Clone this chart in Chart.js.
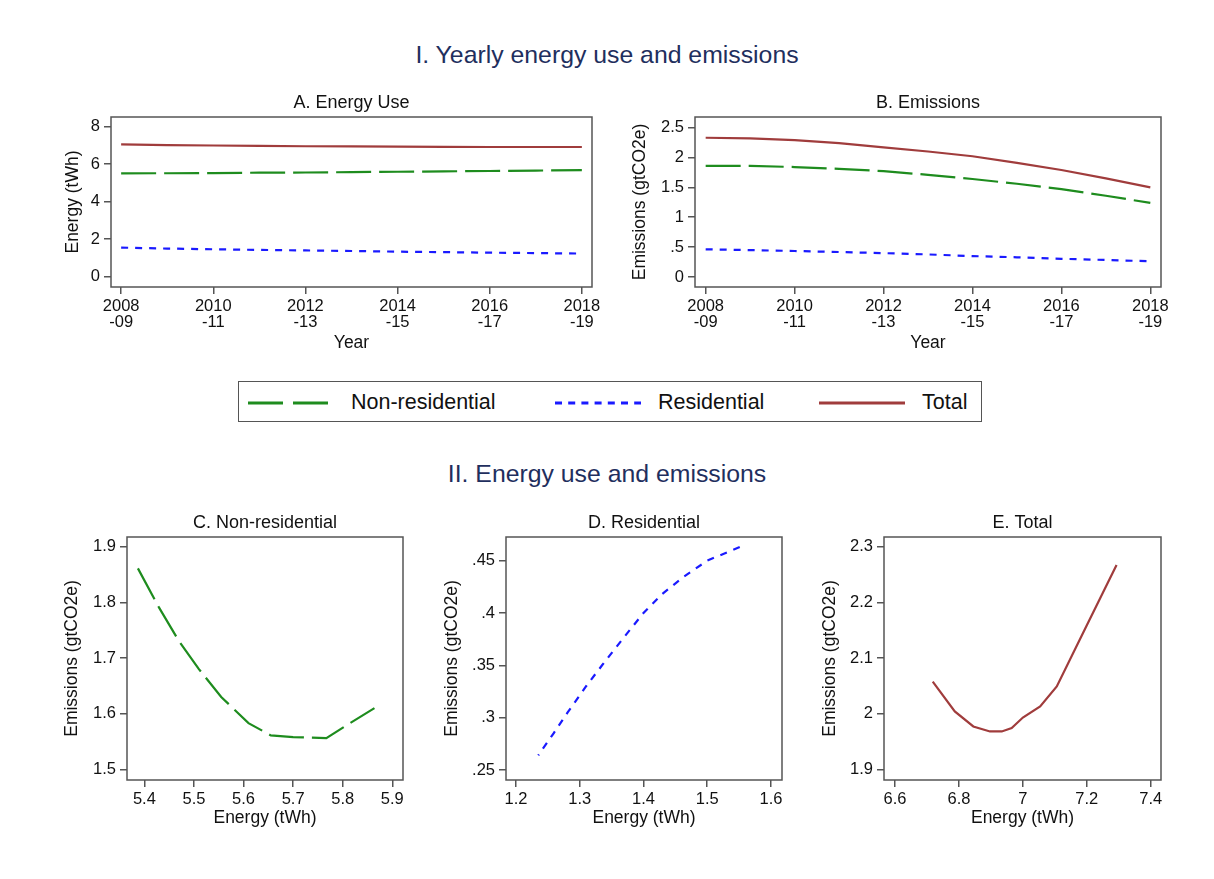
<!DOCTYPE html>
<html>
<head>
<meta charset="utf-8">
<script src="https://cdn.jsdelivr.net/npm/chart.js@4.4.0/dist/chart.umd.min.js"></script>
<style>
  body { margin: 0; background: #fff; font-family: 'Liberation Sans', Arial, Helvetica, sans-serif; }
  #page { position: relative; width: 1214px; height: 879px; overflow: hidden; }
  .panel { position: absolute; }
  .section-title { position: absolute; left: 0; width: 1214px; text-align: center; color: #1f2f5e; font-size: 24.8px; line-height: 30px; }
  #legend { position: absolute; left: 238px; top: 381px; width: 744px; height: 41px; box-sizing: border-box; border: 1.5px solid #555; }
  #legend svg { position: absolute; top: 0; }
  #legend span { position: absolute; top: 0; line-height: 40px; font-size: 21.5px; color: #111; }
</style>
</head>
<body>
<div id="page">
  <div class="section-title" style="top:40px">I. Yearly energy use and emissions</div>
  <div class="panel" style="left:55px;top:88px;width:562px;height:270px"><canvas id="chartA"></canvas></div>
  <div class="panel" style="left:620px;top:88px;width:566px;height:270px"><canvas id="chartB"></canvas></div>

  <div id="legend">
    <svg style="left:8px" width="82" height="40"><line x1="1" y1="21" x2="81" y2="21" stroke="#1e8c1e" stroke-width="3" stroke-dasharray="35 10"/></svg>
    <span style="left:112px">Non-residential</span>
    <svg style="left:316px" width="86" height="40"><line x1="0" y1="21" x2="86" y2="21" stroke="#1a1aff" stroke-width="3" stroke-dasharray="7 6.2"/></svg>
    <span style="left:419px">Residential</span>
    <svg style="left:580px" width="86" height="40"><line x1="0" y1="21" x2="86" y2="21" stroke="#a03c3c" stroke-width="3"/></svg>
    <span style="left:683px">Total</span>
  </div>

  <div class="section-title" style="top:459px">II. Energy use and emissions</div>
  <div class="panel" style="left:55px;top:508px;width:368px;height:324px"><canvas id="chartC"></canvas></div>
  <div class="panel" style="left:435px;top:508px;width:367px;height:324px"><canvas id="chartD"></canvas></div>
  <div class="panel" style="left:812px;top:508px;width:369px;height:324px"><canvas id="chartE"></canvas></div>
</div>

<script>
// yearly series (panels A and B)
const years = [2008, 2009, 2010, 2011, 2012, 2013, 2014, 2015, 2016, 2017, 2018];
const yearTicks = [2008, 2010, 2012, 2014, 2016, 2018];
const yearTickLabels = [['2008', '-09'], ['2010', '-11'], ['2012', '-13'], ['2014', '-15'], ['2016', '-17'], ['2018', '-19']];

const energyNonRes = [5.51, 5.52, 5.53, 5.55, 5.56, 5.58, 5.60, 5.62, 5.64, 5.66, 5.69];
const energyRes = [1.551, 1.50, 1.464, 1.429, 1.40, 1.371, 1.335, 1.31, 1.281, 1.259, 1.235];
const energyTotal = [7.06, 7.02, 7.00, 6.98, 6.96, 6.95, 6.94, 6.93, 6.92, 6.92, 6.92];

const emisNonRes = [1.86, 1.86, 1.84, 1.81, 1.77, 1.71, 1.64, 1.56, 1.47, 1.36, 1.24];
const emisRes = [0.463, 0.45, 0.435, 0.418, 0.40, 0.378, 0.35, 0.33, 0.305, 0.285, 0.264];
const emisTotal = [2.33, 2.32, 2.29, 2.24, 2.17, 2.10, 2.02, 1.91, 1.79, 1.65, 1.50];

// energy vs emissions (panels C and E; D uses the residential series)
const cEnergy = [5.387, 5.43, 5.47, 5.51, 5.555, 5.61, 5.655, 5.70, 5.767, 5.815, 5.864];
const cEmis = [1.861, 1.79, 1.73, 1.68, 1.630, 1.583, 1.561, 1.558, 1.556, 1.583, 1.610];
const eEnergy = [6.718, 6.787, 6.845, 6.897, 6.934, 6.965, 7.0, 7.054, 7.106, 7.2, 7.293];
const eEmis = [2.0575, 2.004, 1.977, 1.968, 1.968, 1.974, 1.993, 2.013, 2.049, 2.159, 2.267];

// axis ticks
const ticksA = [0, 2, 4, 6, 8];
const ticksB = [0, 0.5, 1, 1.5, 2, 2.5];
const ticksCx = [5.4, 5.5, 5.6, 5.7, 5.8, 5.9];
const ticksCy = [1.5, 1.6, 1.7, 1.8, 1.9];
const ticksDx = [1.2, 1.3, 1.4, 1.5, 1.6];
const ticksDy = [0.25, 0.3, 0.35, 0.4, 0.45];
const ticksEx = [6.6, 6.8, 7, 7.2, 7.4];
const ticksEy = [1.9, 2, 2.1, 2.2, 2.3];

const GREEN = '#1e8c1e', BLUE = '#1a1aff', RED = '#a03c3c';
const FONT = "'Liberation Sans', Arial, Helvetica, sans-serif";
const AXIS = '#555';

Chart.defaults.font.family = FONT;
Chart.defaults.color = '#111';

// Stata style labels: .5 instead of 0.5
function fmt(v) {
    let s = String(+v.toFixed(3));
    return s.replace(/^0\./, '.');
}

function pairs(xs, ys) {
    return xs.map((x, i) => ({ x: x, y: ys[i] }));
}

function lineSet(label, xs, ys, color, dash) {
    return {
        label: label,
        data: pairs(xs, ys),
        borderColor: color,
        borderWidth: 2.2,
        borderDash: dash,
        pointRadius: 0,
        tension: 0,
        fill: false
    };
}

// box round the plot region
const framePlugin = {
    id: 'frame',
    afterDraw(chart) {
        const { ctx, chartArea: a } = chart;
        ctx.save();
        ctx.strokeStyle = AXIS;
        ctx.lineWidth = 1.5;
        ctx.strokeRect(a.left, a.top, a.right - a.left, a.bottom - a.top);
        ctx.restore();
    }
};

// subplot title centred over the plot region, not the canvas
const panelTitlePlugin = {
    id: 'panelTitle',
    afterDraw(chart, args, opts) {
        const { ctx, chartArea: a } = chart;
        ctx.save();
        ctx.fillStyle = '#111';
        ctx.font = '18px ' + FONT;
        ctx.textAlign = 'center';
        ctx.textBaseline = 'middle';
        ctx.fillText(opts.text, (a.left + a.right) / 2, a.top - 13.5);
        ctx.restore();
    }
};

function makeChart(id, o) {
    const ctx = document.getElementById(id).getContext('2d');
    return new Chart(ctx, {
        type: 'line',
        data: { datasets: o.datasets },
        plugins: [framePlugin, panelTitlePlugin],
        options: {
            responsive: true,
            maintainAspectRatio: false,
            animation: false,
            layout: { padding: { left: 0, top: 29, right: o.padRight, bottom: 0 } },
            plugins: {
                legend: { display: false },
                tooltip: { enabled: false },
                panelTitle: { text: o.title }
            },
            scales: {
                x: {
                    type: 'linear',
                    min: o.xMin,
                    max: o.xMax,
                    afterFit: s => { s.height = o.xHeight; },
                    afterBuildTicks: s => { s.ticks = o.xTicks.map(v => ({ value: v })); },
                    grid: { drawOnChartArea: false, tickLength: 7, color: AXIS, lineWidth: 1.5 },
                    border: { display: false },
                    ticks: {
                        color: '#111',
                        padding: 4,
                        maxRotation: 0,
                        autoSkip: false,
                        font: { size: 16.5, lineHeight: 1.0 },
                        callback: o.xLabel
                    },
                    title: {
                        display: true,
                        text: o.xTitle,
                        color: '#111',
                        font: { size: 17.5, lineHeight: 1.2 },
                        padding: { top: 0, bottom: o.xTitlePad }
                    }
                },
                y: {
                    type: 'linear',
                    min: o.yMin,
                    max: o.yMax,
                    afterFit: s => { s.width = o.yWidth; },
                    afterBuildTicks: s => { s.ticks = o.yTicks.map(v => ({ value: v })); },
                    grid: { drawOnChartArea: false, tickLength: 7, color: AXIS, lineWidth: 1.5 },
                    border: { display: false },
                    ticks: {
                        color: '#111',
                        padding: 4,
                        autoSkip: false,
                        font: { size: 16.5 },
                        callback: v => fmt(v)
                    },
                    title: {
                        display: true,
                        text: o.yTitle,
                        color: '#111',
                        font: { size: 17.5, lineHeight: 1.2 },
                        padding: { top: o.yTitlePad, bottom: 0 }
                    }
                }
            }
        }
    });
}

const yearLabel = (v, i) => yearTickLabels[i];
const numLabel = v => fmt(v);

// A. Energy Use
makeChart('chartA', {
    title: 'A. Energy Use',
    datasets: [
        lineSet('Total', years, energyTotal, RED, []),
        lineSet('Non-residential', years, energyNonRes, GREEN, [35, 8]),
        lineSet('Residential', years, energyRes, BLUE, [7, 7])
    ],
    xMin: 2007.78, xMax: 2018.22, xTicks: yearTicks, xLabel: yearLabel, xTitle: 'Year',
    yMin: -0.55, yMax: 8.52, yTicks: ticksA, yTitle: 'Energy (tWh)',
    yWidth: 56, xHeight: 71, padRight: 25, yTitlePad: 7.5, xTitlePad: 4.5
});

// B. Emissions
makeChart('chartB', {
    title: 'B. Emissions',
    datasets: [
        lineSet('Total', years, emisTotal, RED, []),
        lineSet('Non-residential', years, emisNonRes, GREEN, [35, 8]),
        lineSet('Residential', years, emisRes, BLUE, [7, 7])
    ],
    xMin: 2007.76, xMax: 2018.24, xTicks: yearTicks, xLabel: yearLabel, xTitle: 'Year',
    yMin: -0.167, yMax: 2.677, yTicks: ticksB, yTitle: 'Emissions (gtCO2e)',
    yWidth: 75, xHeight: 71, padRight: 25, yTitlePad: 9.5, xTitlePad: 4.5
});

// C. Non-residential
makeChart('chartC', {
    title: 'C. Non-residential',
    datasets: [lineSet('Non-residential', cEnergy, cEmis, GREEN, [35, 8])],
    xMin: 5.365, xMax: 5.9216, xTicks: ticksCx, xLabel: numLabel, xTitle: 'Energy (tWh)',
    yMin: 1.4808, yMax: 1.9174, yTicks: ticksCy, yTitle: 'Emissions (gtCO2e)',
    yWidth: 72, xHeight: 52, padRight: 20, yTitlePad: 6.8, xTitlePad: 3.2
});

// D. Residential
makeChart('chartD', {
    title: 'D. Residential',
    datasets: [lineSet('Residential', energyRes, emisRes, BLUE, [7, 7])],
    xMin: 1.1843, xMax: 1.6173, xTicks: ticksDx, xLabel: numLabel, xTitle: 'Energy (tWh)',
    yMin: 0.2404, yMax: 0.4726, yTicks: ticksDy, yTitle: 'Emissions (gtCO2e)',
    yWidth: 71, xHeight: 52, padRight: 20, yTitlePad: 6.2, xTitlePad: 3.2
});

// E. Total
makeChart('chartE', {
    title: 'E. Total',
    datasets: [lineSet('Total', eEnergy, eEmis, RED, [])],
    xMin: 6.5656, xMax: 7.432, xTicks: ticksEx, xLabel: numLabel, xTitle: 'Energy (tWh)',
    yMin: 1.8808, yMax: 2.3174, yTicks: ticksEy, yTitle: 'Emissions (gtCO2e)',
    yWidth: 72, xHeight: 52, padRight: 20, yTitlePad: 7.5, xTitlePad: 3.2
});
</script>
</body>
</html>
